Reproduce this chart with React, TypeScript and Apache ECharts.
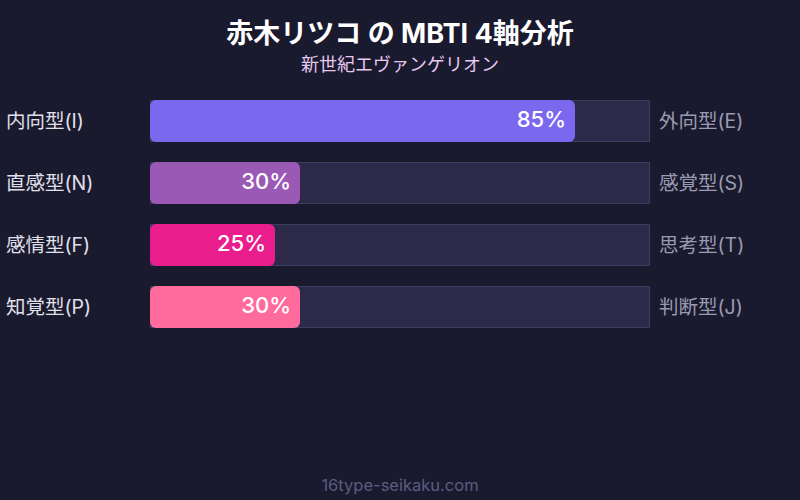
import React, { useEffect, useRef } from "react";
import * as echarts from "echarts";

const leftLabels = ["内向型(I)", "直感型(N)", "感情型(F)", "知覚型(P)"];
const rightLabels = ["外向型(E)", "感覚型(S)", "思考型(T)", "判断型(J)"];
const values = [85, 30, 25, 30];
const barColors = ["#7b68ee", "#9b59b6", "#e91e8c", "#ff6b9d"];
const trackValues = [100, 100, 100, 100];

const FONT = "Inter, 'Noto Sans CJK JP', 'Noto Sans', sans-serif";

export default function App() {
  const ref = useRef<HTMLDivElement>(null);
  useEffect(() => {
    if (!ref.current) return;
    document.body.style.margin = "0";
    const chart = echarts.init(ref.current, null, { renderer: "svg" });
    chart.setOption({
      animation: false,
      backgroundColor: "#1a1a2e",
      textStyle: { fontFamily: FONT },
      title: [
        {
          text: "赤木リツコ の MBTI 4軸分析",
          left: "center",
          top: 15,
          textStyle: { color: "#ffffff", fontSize: 27, fontWeight: "bold", fontFamily: FONT },
        },
        {
          text: "新世紀エヴァンゲリオン",
          left: "center",
          top: 50,
          textStyle: { color: "#e6c8f0", fontSize: 18, fontWeight: "normal", fontFamily: FONT },
        },
        {
          text: "16type-seikaku.com",
          left: "center",
          top: 472,
          textStyle: { color: "#5c5c80", fontSize: 16.5, fontWeight: "normal", fontFamily: FONT },
        },
      ],
      grid: { left: 150, right: 150, top: 90, height: 248, containLabel: false },
      xAxis: {
        type: "value",
        min: 0,
        max: 100,
        show: false,
      },
      yAxis: [
        {
          type: "category",
          data: leftLabels,
          inverse: true,
          axisLine: { show: false },
          axisTick: { show: false },
          axisLabel: {
            color: "#e0e0ec",
            fontSize: 19.5,
            align: "left",
            margin: 144,
            padding: [0, 0, 4, 0],
            fontFamily: FONT,
          },
        },
        {
          type: "category",
          data: rightLabels,
          inverse: true,
          position: "right",
          axisLine: { show: false },
          axisTick: { show: false },
          axisLabel: {
            color: "#9a9ab0",
            fontSize: 19.5,
            margin: 9,
            padding: [0, 0, 3, 0],
            fontFamily: FONT,
          },
        },
      ],
      series: [
        {
          type: "bar",
          data: trackValues,
          barWidth: 42,
          barGap: "-100%",
          silent: true,
          itemStyle: {
            color: "#2c2a48",
            borderColor: "#3e3c60",
            borderWidth: 1,
          },
          z: 1,
        },
        {
          type: "bar",
          data: values.map((v, i) => ({ value: v, itemStyle: { color: barColors[i] } })),
          barWidth: 42,
          itemStyle: { borderRadius: 6 },
          label: {
            show: true,
            position: "insideRight",
            distance: 9,
            offset: [0, -2],
            formatter: "{c}%",
            color: "#ffffff",
            fontSize: 22,
            fontWeight: 500,
            fontFamily: FONT,
          },
          z: 2,
        },
      ],
    });
    return () => chart.dispose();
  }, []);
  return <div ref={ref} style={{ width: 800, height: 500 }} />;
}
